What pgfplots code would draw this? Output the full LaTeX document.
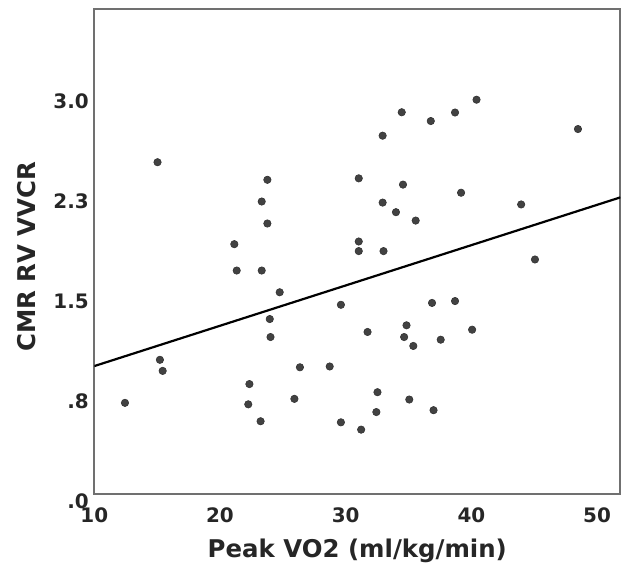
\documentclass[border=0pt]{standalone}
\usepackage{fontspec}
\setmainfont{DejaVu Sans}
\usepackage{pgfplots}
\pgfplotsset{compat=1.18}
\definecolor{dotgray}{HTML}{424242}
\definecolor{framegray}{HTML}{707070}

\begin{document}
\begin{tikzpicture}[x=1bp,y=1bp]
\path[use as bounding box] (0,0) rectangle (622,576);
\begin{axis}[
    at={(94.3bp,82bp)}, anchor=south west,
    width=526bp, height=485bp, scale only axis,
    xmin=10, xmax=51.85, ymin=0, ymax=3.64,
    xtick={10,20,30,40,50},
    xticklabels={10,20,30,40,50},
    ytick={0,0.75,1.5,2.25,3},
    yticklabels={.0,.8,1.5,2.3,3.0},
    major tick length=0pt,
    axis line style={framegray, line width=1.8bp},
    tick label style={font=\fontsize{20}{24}\selectfont\bfseries, text=black!85},
    xticklabel style={yshift=-10bp},
    yticklabel style={yshift=-7bp, xshift=-2bp},
    xlabel={Peak VO2 (ml/kg/min)},
    ylabel={CMR RV VVCR},
    label style={font=\fontsize{24.5}{28}\selectfont\bfseries, text=black!85},
    xlabel style={at={(axis description cs:0.5,-0.1175)}, anchor=center},
    ylabel style={at={(axis description cs:-0.1285,0.489)}, anchor=center},
]

% regression line
\addplot[black, line width=2.2bp] coordinates {(10,0.960) (51.85,2.226)};

% subjects
\addplot[only marks, mark=*, mark size=3.7bp,
    mark options={fill=dotgray, draw=black!80, line width=0.6bp}]
coordinates {
(12.44,0.684) (15.03,2.490) (15.22,1.007) (15.44,0.924)
(21.14,1.875) (21.33,1.677) (22.34,0.825) (22.25,0.673)
(23.23,0.546) (23.32,2.195) (23.32,1.677) (23.77,2.358)
(23.77,2.030) (23.96,1.313) (24.02,1.178) (24.75,1.514)
(25.92,0.714) (26.36,0.951) (28.73,0.957) (29.62,1.420)
(29.62,0.538) (31.04,2.369) (31.04,1.895) (31.04,1.823)
(31.23,0.483) (31.74,1.216) (32.94,2.689) (32.94,2.187)
(33.01,1.823) (32.53,0.764) (32.44,0.615) (34.00,2.115)
(34.46,2.865) (34.56,2.322) (34.65,1.178) (34.84,1.266)
(35.38,1.111) (35.06,0.709) (35.57,2.052) (36.77,2.799)
(36.87,1.434) (36.99,0.629) (37.56,1.158) (38.70,2.863)
(38.70,1.448) (39.18,2.261) (40.06,1.233) (40.41,2.959)
(43.96,2.173) (45.06,1.760) (48.48,2.739)
};
\end{axis}
\end{tikzpicture}
\end{document}
